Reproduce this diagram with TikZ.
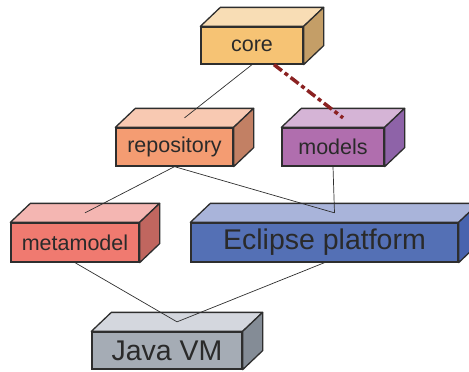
\documentclass[tikz,border=0pt]{standalone}
\usepackage{fontspec}
\setmainfont{Liberation Sans}
\usetikzlibrary{calc}
\definecolor{coreF}{HTML}{F6C374}\definecolor{coreT}{HTML}{F8DDB5}\definecolor{coreS}{HTML}{C49E67}
\definecolor{repF}{HTML}{F49C72}\definecolor{repT}{HTML}{F8C9B2}\definecolor{repS}{HTML}{C28064}
\definecolor{modF}{HTML}{B06EAE}\definecolor{modT}{HTML}{D5B4D6}\definecolor{modS}{HTML}{8E63A8}
\definecolor{metaF}{HTML}{F07A70}\definecolor{metaT}{HTML}{F4B6B2}\definecolor{metaS}{HTML}{C0665F}
\definecolor{eclF}{HTML}{5470B5}\definecolor{eclT}{HTML}{A9B4DA}\definecolor{eclS}{HTML}{4863AE}
\definecolor{javaF}{HTML}{A5ACB5}\definecolor{javaT}{HTML}{D4D7DE}\definecolor{javaS}{HTML}{848C96}
\definecolor{edge}{HTML}{2E2E2E}\definecolor{txt}{HTML}{2A2A2A}\definecolor{dep}{HTML}{8B2222}
\newcommand\boxfaces[3]{%
  \filldraw[face,fill=#2] (#1.north west) -- ++(20pt,19pt) -- ($(#1.north east)+(20pt,19pt)$) -- (#1.north east) -- cycle;
  \filldraw[face,fill=#3] (#1.north east) -- ++(20pt,19pt) -- ($(#1.south east)+(20pt,19pt)$) -- (#1.south east) -- cycle;}
\tikzset{
  face/.style={draw=edge,line width=1.3pt,line join=round},
  cube/.style={draw=edge,line width=1.3pt,rectangle,inner sep=0pt,text=txt,font=\fontsize{21.5}{24}\selectfont},
  bigcube/.style={cube,font=\fontsize{28.5}{32}\selectfont},
  link/.style={draw=edge,line width=0.7pt},
  deplink/.style={draw=dep,line width=3.5pt,dash pattern=on 10pt off 3.5pt on 4pt off 3.5pt}
}
\begin{document}
\begin{tikzpicture}[x=1pt,y=-1pt]
\useasboundingbox (0,0) rectangle (469,372);
\clip (0,0) rectangle (469,372);
% box front faces
\node[cube,fill=coreF,minimum width=102pt,minimum height=37pt] (core) at (252,45.5) {core};
\node[cube,fill=repF,minimum width=117pt,minimum height=38pt] (repo) at (174.5,147) {repository};
\node[cube,fill=modF,minimum width=102pt,minimum height=38pt] (models) at (333,147) {models};
\node[cube,fill=metaF,minimum width=128pt,minimum height=39pt] (meta) at (75,242.5) {metamodel};
\node[bigcube,fill=eclF,minimum width=267pt,minimum height=39pt] (ecl) at (324.5,242.5) {Eclipse platform};
\node[bigcube,fill=javaF,minimum width=150pt,minimum height=37pt] (java) at (167,350.5) {Java VM};
\boxfaces{core}{coreT}{coreS}
\boxfaces{repo}{repT}{repS}
\boxfaces{models}{modT}{modS}
\boxfaces{meta}{metaT}{metaS}
\boxfaces{ecl}{eclT}{eclS}
\boxfaces{java}{javaT}{javaS}
% top face centres
\coordinate (repoTop) at ($(repo.north)+(10pt,9.5pt)$);
\coordinate (modTop) at ($(models.north)+(10pt,9.5pt)$);
\coordinate (metaTop) at ($(meta.north)+(10pt,9.5pt)$);
\coordinate (eclTop) at ($(ecl.north)+(10pt,9.5pt)$);
\coordinate (javaTop) at ($(java.north)+(10pt,9.5pt)$);
\coordinate (coreDep) at ($(core.south)+(22pt,0pt)$);
% connectors
\draw[link] (core.south) -- (repoTop);
\draw[deplink] (coreDep) -- (modTop);
\draw[link] (repo.south) -- (metaTop);
\draw[link] (repo.south) -- (eclTop);
\draw[link] (models.south) -- (eclTop);
\draw[link] (meta.south) -- (javaTop);
\draw[link] (ecl.south) -- (javaTop);
\end{tikzpicture}
\end{document}
